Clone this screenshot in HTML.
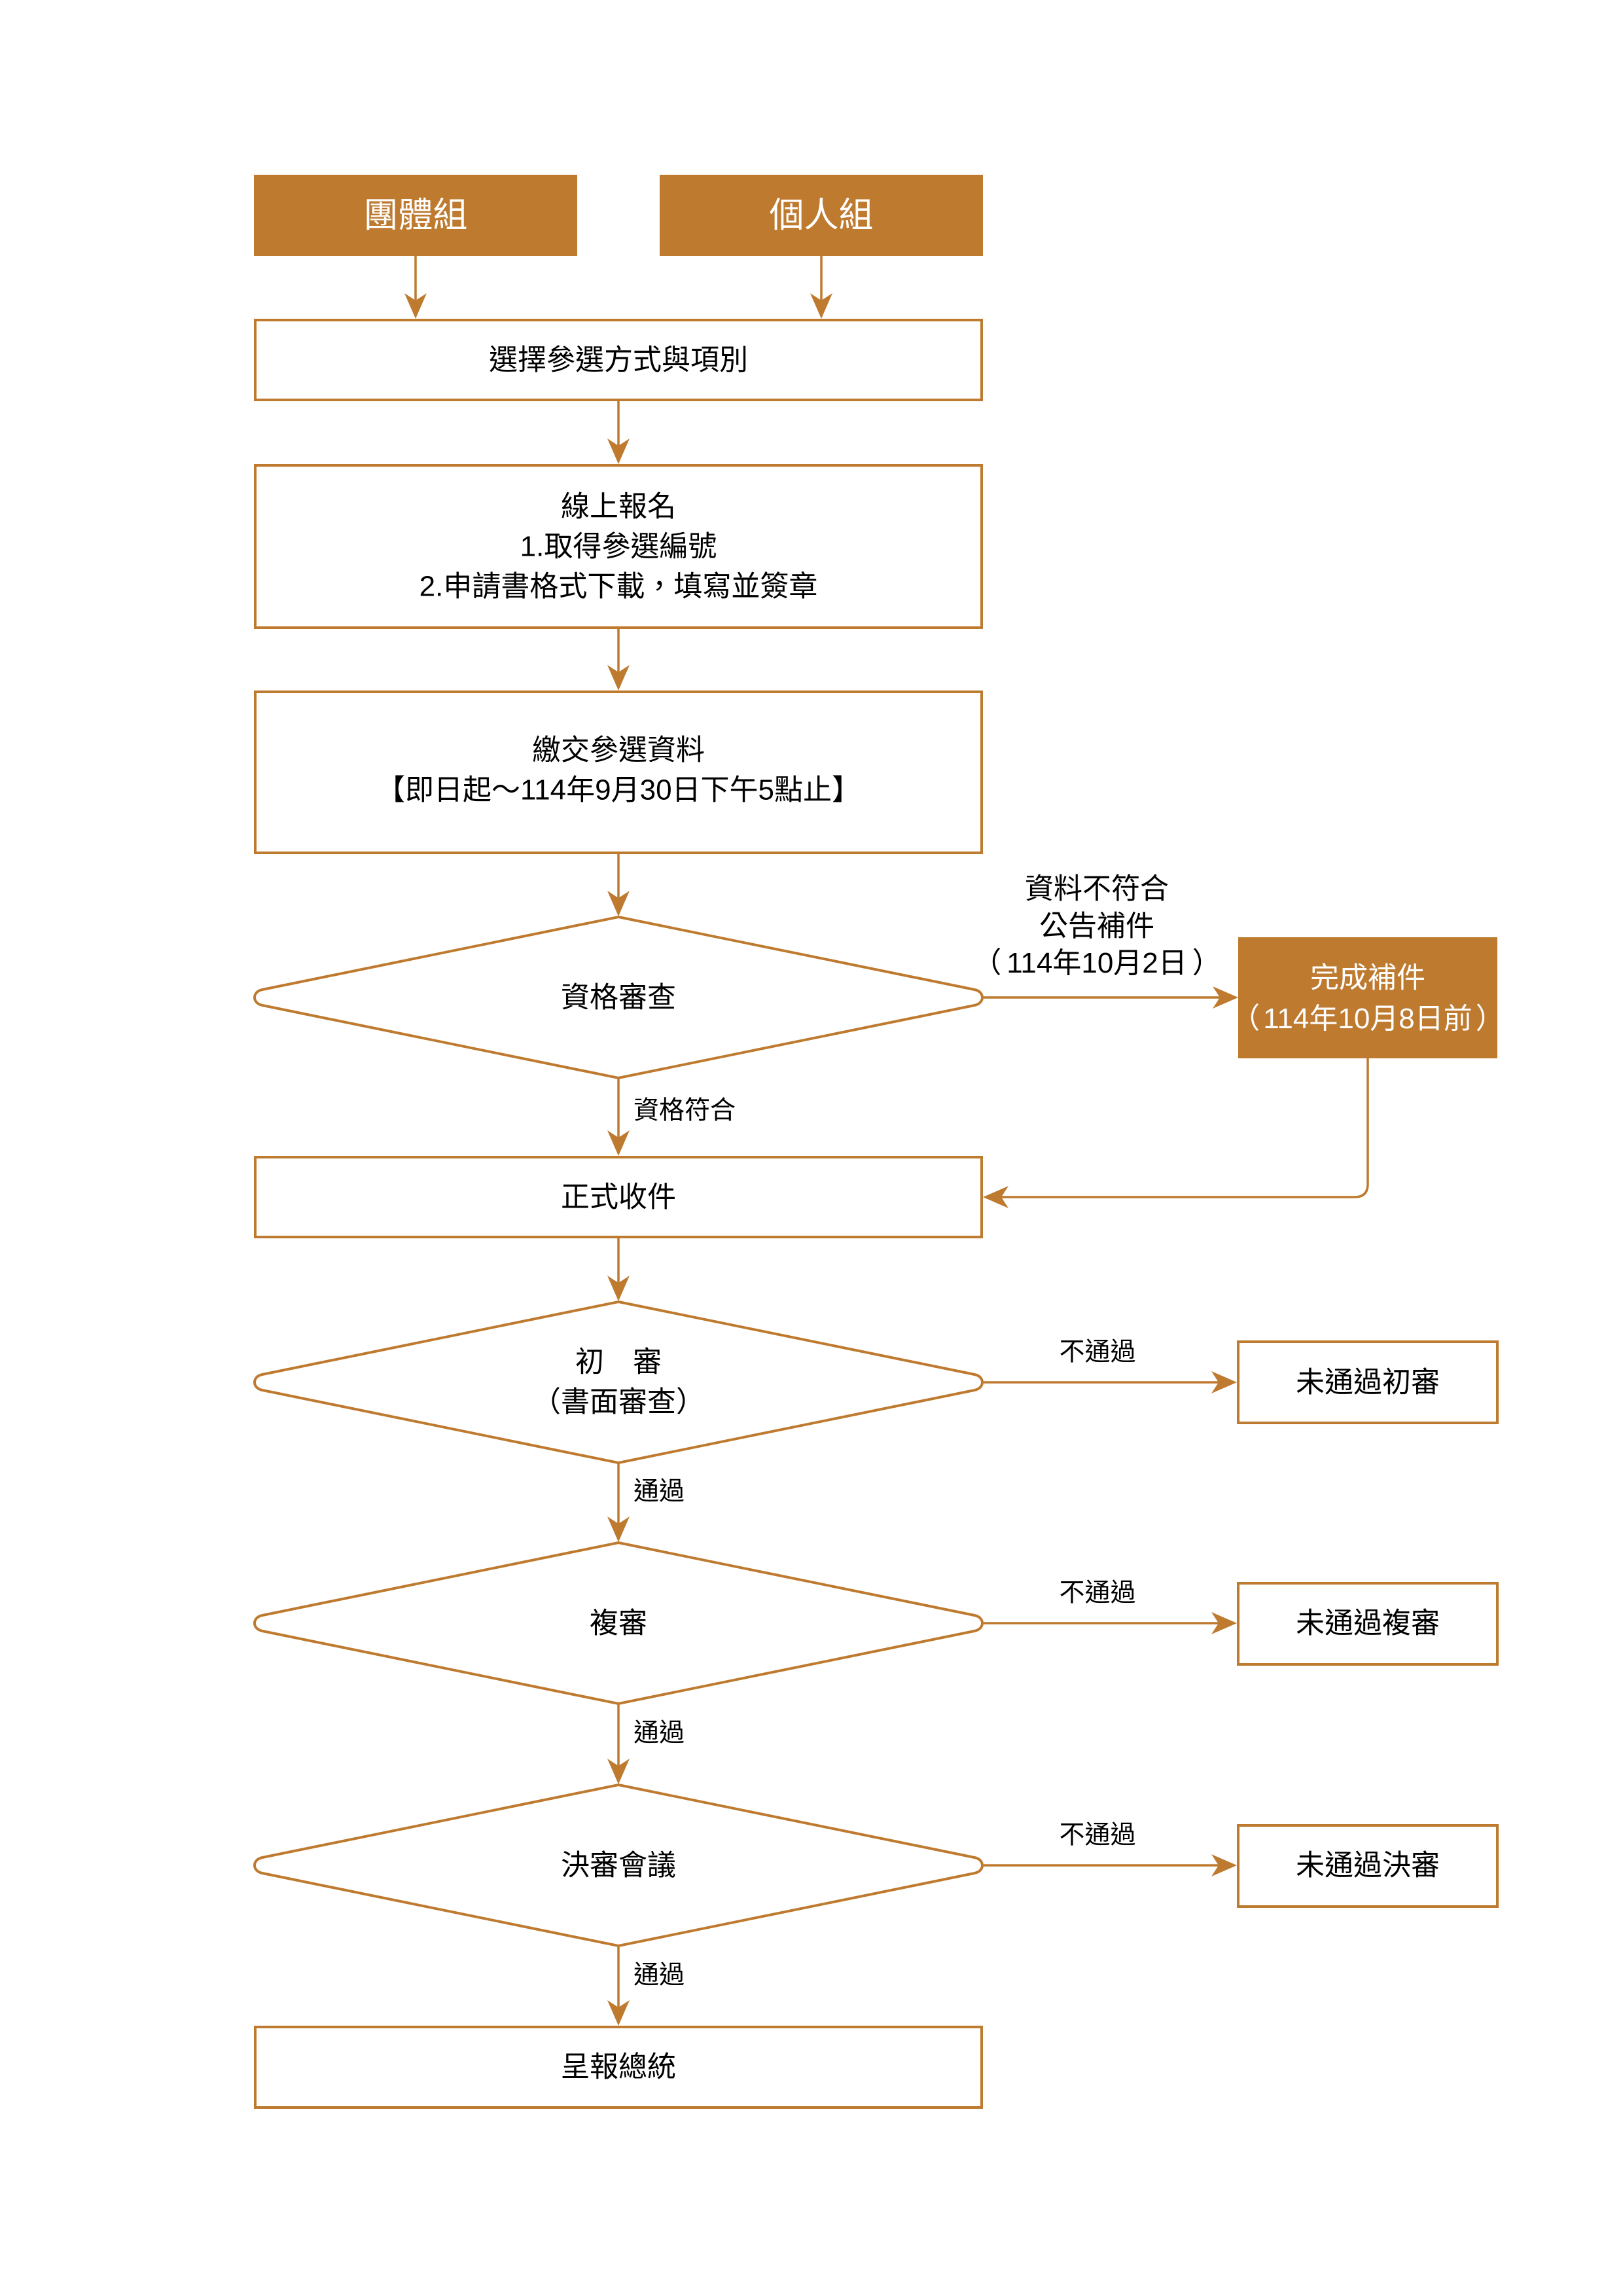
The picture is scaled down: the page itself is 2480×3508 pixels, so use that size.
<!DOCTYPE html>
<html>
<head>
<meta charset="utf-8">
<style>
html,body{margin:0;padding:0;background:#fff;}
svg{display:block;}
text{font-family:"Liberation Sans","Noto Sans CJK TC","Noto Sans CJK JP",sans-serif;}
</style>
</head>
<body>
<svg width="2480" height="3508" viewBox="0 0 2480 3508" xmlns="http://www.w3.org/2000/svg">
<rect x="0" y="0" width="2480" height="3508" fill="#fff"/>
<g fill="none" stroke="#BE7A2F" stroke-width="4">
  <rect x="390" y="489" width="1110" height="122"/>
  <rect x="390" y="711" width="1110" height="248"/>
  <rect x="390" y="1057" width="1110" height="246"/>
  <rect x="390" y="1768" width="1110" height="122"/>
  <rect x="390" y="3097" width="1110" height="123"/>
  <rect x="1892" y="2050" width="396" height="124"/>
  <rect x="1892" y="2419" width="396" height="124"/>
  <rect x="1892" y="2789" width="396" height="124"/>
  <path d="M945 1401 L1489 1512 C1505 1515 1505 1533 1489 1536 L945 1647 L401 1536 C385 1533 385 1515 401 1512 Z"/>
  <path d="M945 1989 L1489 2100 C1505 2103 1505 2121 1489 2124 L945 2235 L401 2124 C385 2121 385 2103 401 2100 Z"/>
  <path d="M945 2357 L1489 2468 C1505 2471 1505 2489 1489 2492 L945 2603 L401 2492 C385 2489 385 2471 401 2468 Z"/>
  <path d="M945 2727 L1489 2838 C1505 2841 1505 2859 1489 2862 L945 2973 L401 2862 C385 2859 385 2841 401 2838 Z"/>
</g>
<g fill="#BE7A2F">
  <rect x="388" y="267" width="494" height="124"/>
  <rect x="1008" y="267" width="494" height="124"/>
  <rect x="1892" y="1432" width="396" height="185"/>
</g>
<g fill="none" stroke="#BE7A2F" stroke-width="3.5">
  <line x1="635" y1="391" x2="635" y2="470"/>
  <line x1="1255" y1="391" x2="1255" y2="470"/>
  <line x1="945" y1="611" x2="945" y2="692"/>
  <line x1="945" y1="959" x2="945" y2="1038"/>
  <line x1="945" y1="1303" x2="945" y2="1384"/>
  <line x1="945" y1="1647" x2="945" y2="1749"/>
  <line x1="945" y1="1890" x2="945" y2="1972"/>
  <line x1="945" y1="2235" x2="945" y2="2340"/>
  <line x1="945" y1="2603" x2="945" y2="2710"/>
  <line x1="945" y1="2973" x2="945" y2="3078"/>
  <line x1="1503" y1="1524" x2="1875" y2="1524"/>
  <line x1="1503" y1="2112" x2="1873" y2="2112"/>
  <line x1="1503" y1="2480" x2="1873" y2="2480"/>
  <line x1="1503" y1="2850" x2="1873" y2="2850"/>
  <path d="M2090 1617 V1809 Q2090 1829 2070 1829 H1520"/>
</g>
<g fill="#BE7A2F">
  <polygon points="635,487 618,448 635,459 652,448"/>
  <polygon points="1255,487 1238,448 1255,459 1272,448"/>
  <polygon points="945,709 928,670 945,681 962,670"/>
  <polygon points="945,1055 928,1016 945,1027 962,1016"/>
  <polygon points="945,1400 928,1361 945,1372 962,1361"/>
  <polygon points="945,1766 928,1727 945,1738 962,1727"/>
  <polygon points="945,1988 928,1949 945,1960 962,1949"/>
  <polygon points="945,2356 928,2317 945,2328 962,2317"/>
  <polygon points="945,2726 928,2687 945,2698 962,2687"/>
  <polygon points="945,3095 928,3056 945,3067 962,3056"/>
  <polygon points="1892,1524 1853,1507 1864,1524 1853,1541"/>
  <polygon points="1890,2112 1851,2095 1862,2112 1851,2129"/>
  <polygon points="1890,2480 1851,2463 1862,2480 1851,2497"/>
  <polygon points="1890,2850 1851,2833 1862,2850 1851,2867"/>
  <polygon points="1502,1829 1541,1812 1530,1829 1541,1846"/>
</g>
<g font-size="53" fill="#fff" text-anchor="middle" dominant-baseline="central">
  <text x="635" y="329">團體組</text>
  <text x="1255" y="329">個人組</text>
</g>
<g font-size="44" fill="#fff" text-anchor="middle" dominant-baseline="central">
  <text x="2090" y="1494">完成補件</text>
  <text x="2090" y="1556">（<tspan dx="5">114年10月8日前</tspan><tspan dx="5">）</tspan></text>
</g>
<g font-size="44" fill="#000" text-anchor="middle" dominant-baseline="central">
  <text x="945" y="550">選擇參選方式與項別</text>
  <text x="945" y="774">線上報名</text>
  <text x="945" y="835">1.取得參選編號</text>
  <text x="945" y="896">2.申請書格式下載，填寫並簽章</text>
  <text x="945" y="1146">繳交參選資料</text>
  <text x="945" y="1207">【即日起～114年9月30日下午5點止】</text>
  <text x="945" y="1524">資格審查</text>
  <text x="1676" y="1358">資料不符合</text>
  <text x="1676" y="1415">公告補件</text>
  <text x="1676" y="1471">（<tspan dx="8">114年10月2日</tspan><tspan dx="8">）</tspan></text>
  <text x="945" y="1829">正式收件</text>
  <text x="945" y="2081">初　審</text>
  <text x="945" y="2142">（書面審查）</text>
  <text x="945" y="2480">複審</text>
  <text x="945" y="2850">決審會議</text>
  <text x="945" y="3158">呈報總統</text>
  <text x="2090" y="2112">未通過初審</text>
  <text x="2090" y="2480">未通過複審</text>
  <text x="2090" y="2850">未通過決審</text>
</g>
<g font-size="39" fill="#000" dominant-baseline="central">
  <text x="968" y="1697">資格符合</text>
  <text x="968" y="2279">通過</text>
  <text x="968" y="2648">通過</text>
  <text x="968" y="3018">通過</text>
  <text x="1677" y="2066" text-anchor="middle">不通過</text>
  <text x="1677" y="2434" text-anchor="middle">不通過</text>
  <text x="1677" y="2804" text-anchor="middle">不通過</text>
</g>
</svg>
</body>
</html>
